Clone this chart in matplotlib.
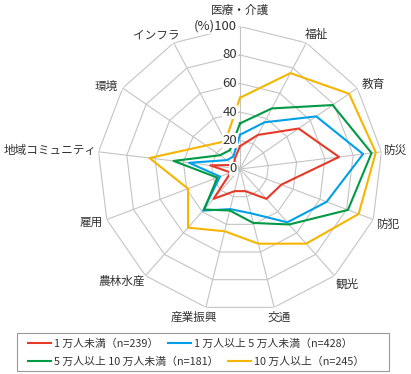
import numpy as np
import matplotlib
matplotlib.use("Agg")
import matplotlib.pyplot as plt
from matplotlib.lines import Line2D
from matplotlib.patches import Rectangle

plt.rcParams['font.family'] = ['Noto Sans CJK JP', 'DejaVu Sans']

# Categories (clockwise from top)
categories = ['医療・介護', '福祉', '教育', '防災', '防犯', '観光', '交通',
              '産業振興', '農林水産', '雇用', '地域コミュニティ', '環境', 'インフラ']

# Share of municipalities (%) by population size
under_1man = [16, 27, 50, 70, 31, 28, 16, 16, 28, 7, 21, 5, 8]
from_1_to_5man = [24, 37, 65, 87, 65, 50, 32, 29, 39, 15, 36, 11, 10]
from_5_to_10man = [32, 48, 79, 93, 81, 52, 39, 30, 38, 17, 47, 17, 15]
over_10man = [50, 76, 93, 96, 89, 70, 54, 45, 55, 39, 64, 29, 22]

series_labels = ['1 万人未満（n=239）', '1 万人以上 5 万人未満（n=428）',
                 '5 万人以上 10 万人未満（n=181）', '10 万人以上（n=245）']
series_colors = ['#e83828', '#00a0e9', '#009944', '#f8b500']

radial_ticks = [0, 20, 40, 60, 80, 100]

# label placement around the outer polygon: (ha, dx, dy) in pixels
label_pos = [('center', 0, 16), ('left', -1, 8), ('left', 4, 4), ('left', 2, 1),
             ('left', 3, -5), ('left', 1, -9), ('left', -7, -10), ('right', 11, -10),
             ('right', -1, -6), ('right', -4, -3), ('right', -2, 1), ('right', -5, 2),
             ('right', 6, 8)]

n = len(categories)
theta = np.linspace(0, 2 * np.pi, n, endpoint=False)
theta_closed = np.append(theta, theta[0])

fig = plt.figure(figsize=(4.11, 3.74), dpi=100)
ax = fig.add_axes([97.5 / 411, 62.5 / 374, 285 / 411, 285 / 374], projection='polar')
ax.set_theta_offset(np.pi / 2)
ax.set_theta_direction(-1)
ax.set_ylim(0, 100)
ax.set_axis_off()

# polygon grid and spokes
grid_color = '#c4c4c4'
for r in radial_ticks[1:]:
    ax.plot(theta_closed, [r] * (n + 1), color=grid_color, lw=0.8, zorder=1)
for t in theta:
    ax.plot([t, t], [0, 100], color=grid_color, lw=0.8, zorder=1)

# data
all_series = [under_1man, from_1_to_5man, from_5_to_10man, over_10man]
for vals, col in zip(all_series, series_colors):
    ax.plot(theta_closed, vals + vals[:1], color=col, lw=1.5, zorder=3)

# radial tick labels along the top axis
for r in radial_ticks:
    txt = '(%)100' if r == 100 else str(r)
    ax.annotate(txt, xy=(0, r), xytext=(-3, 0), textcoords='offset pixels',
                ha='right', va='center', fontsize=9.5, color='#333333', zorder=5,
                bbox=dict(boxstyle='square,pad=0.05', fc='white', ec='none'))

# category labels
for t, name, (ha, dx, dy) in zip(theta, categories, label_pos):
    ax.annotate(name, xy=(t, 100), xytext=(dx, dy), textcoords='offset pixels',
                ha=ha, va='center', fontsize=8.4, color='#333333', annotation_clip=False)

# legend: two rows that are not column aligned, inside one frame
handles = [Line2D([], [], color=c, lw=1.5) for c in series_colors]
leg_kw = dict(frameon=False, ncol=2, fontsize=7.8, handlelength=2.1, handletextpad=0.3,
              columnspacing=0.9, borderpad=0, borderaxespad=0, loc='center left')
leg1 = fig.legend(handles[:2], series_labels[:2], bbox_to_anchor=(28 / 411, 1 - 343.3 / 374), **leg_kw)
leg2 = fig.legend(handles[2:], series_labels[2:], bbox_to_anchor=(28 / 411, 1 - 361.7 / 374), **leg_kw)
for leg in (leg1, leg2):
    for tx in leg.get_texts():
        tx.set_color('#333333')
fig.patches.append(Rectangle((17.3 / 411, 1 - 370.7 / 374), 372 / 411, 38 / 374,
                             transform=fig.transFigure, fill=False, ec='#999999', lw=0.8))

fig.savefig('out.png', dpi=100)
